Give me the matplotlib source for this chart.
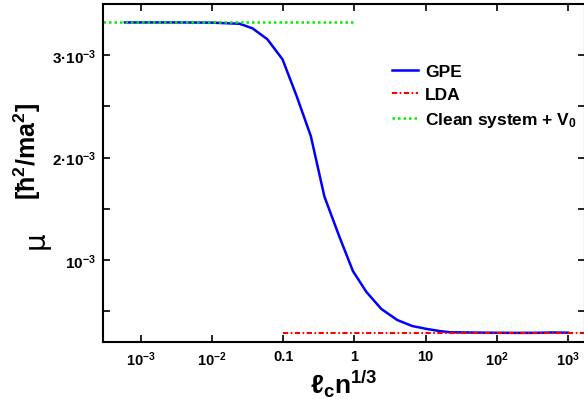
import numpy as np
import matplotlib
matplotlib.use("Agg")
import matplotlib.pyplot as plt
from matplotlib.ticker import FixedLocator, FixedFormatter

plt.rcParams['font.family'] = ['Liberation Sans', 'DejaVu Sans']
plt.rcParams['font.weight'] = 'bold'
plt.rcParams['mathtext.fontset'] = 'custom'
plt.rcParams['mathtext.rm'] = 'Liberation Sans:bold'
plt.rcParams['mathtext.it'] = 'Liberation Sans:bold'
plt.rcParams['mathtext.bf'] = 'Liberation Sans:bold'
plt.rcParams['mathtext.default'] = 'rm'

# GPE chemical potential vs l_c n^(1/3)
gpe_x = [6.0e-4, 1e-3, 3.2e-3, 0.01, 0.0245, 0.037, 0.060, 0.098, 0.155, 0.245,
         0.38, 0.62, 0.955, 1.48, 2.4, 4.0, 6.5, 10.5, 15.8, 22, 50, 100, 200,
         400, 600, 1000]
gpe_y = [3.32e-3, 3.32e-3, 3.32e-3, 3.318e-3, 3.307e-3, 3.263e-3, 3.156e-3,
         2.96e-3, 2.60e-3, 2.21e-3, 1.62e-3, 1.224e-3, 0.893e-3, 0.688e-3,
         0.522e-3, 0.415e-3, 0.356e-3, 0.327e-3, 0.307e-3, 0.295e-3, 0.292e-3,
         0.290e-3, 0.289e-3, 0.290e-3, 0.293e-3, 0.291e-3]

lda_x = [0.1, 1e4]
lda_y = [0.288e-3, 0.288e-3]

clean_x = [1e-4, 1.0]
clean_y = [3.32e-3, 3.32e-3]

xticks = [1e-3, 1e-2, 0.1, 1, 10, 100, 1000]
xticklabels = ['10$^{-3}$', '10$^{-2}$', '0.1', '1', '10', '10$^{2}$', '10$^{3}$']
yticks = [1e-3, 2e-3, 3e-3]
yticklabels = ['10$^{-3}$', '2·10$^{-3}$', '3·10$^{-3}$']
yminor = [0.5e-3, 1.5e-3, 2.5e-3]

fig = plt.figure(figsize=(5.84, 4.06), dpi=100)
ax = fig.add_axes([103/584, 1 - 343/406, 482/584, 338/406])

ax.plot(gpe_x, gpe_y, color='#0000ff', lw=1.8, label='GPE')
ax.plot(lda_x, lda_y, color='#ff0000', lw=1.5, dashes=(2.5, 1.2, 0.8, 1.2), label='LDA')
ax.plot(clean_x, clean_y, color='#00ee00', lw=1.8, dashes=(1, 1.2),
        label='Clean system + V$_{0}$')

ax.set_xscale('log')
ax.set_xlim(10**-3.53, 10**3.24)
ax.set_ylim(0.2e-3, 3.5e-3)

ax.xaxis.set_major_locator(FixedLocator(xticks))
ax.xaxis.set_major_formatter(FixedFormatter(xticklabels))
ax.xaxis.set_minor_locator(FixedLocator([]))
ax.yaxis.set_major_locator(FixedLocator(yticks))
ax.yaxis.set_major_formatter(FixedFormatter(yticklabels))
ax.yaxis.set_minor_locator(FixedLocator(yminor))

ax.tick_params(which='both', direction='in', top=True, right=True, length=5,
               width=1.2, pad=5)
ax.tick_params(axis='x', labelsize=10.5)
ax.tick_params(axis='y', labelsize=11)
for s in ax.spines.values():
    s.set_linewidth(1.5)

ax.set_xlabel('ℓ$_{c}$n$^{1/3}$', fontsize=19, fontweight='bold', labelpad=0)

# y label: mu (plain) and units (bold), drawn separately like the original
fig.text(36/584, 1 - 240/406, 'μ', fontsize=20, fontweight='normal',
         family=['DejaVu Sans'], rotation=90, ha='center', va='center')
fig.text(27/584, 1 - 152/406, '[ħ$^{2}$/ma$^{2}$]', fontsize=18, fontweight='bold',
         rotation=90, ha='center', va='center')

ax.legend(loc='upper left', bbox_to_anchor=(0.6, 0.823), frameon=False,
          fontsize=12.5, handlelength=1.5, handletextpad=0.4, labelspacing=0.47,
          borderpad=0, borderaxespad=0)

fig.savefig('out.png', dpi=100)
